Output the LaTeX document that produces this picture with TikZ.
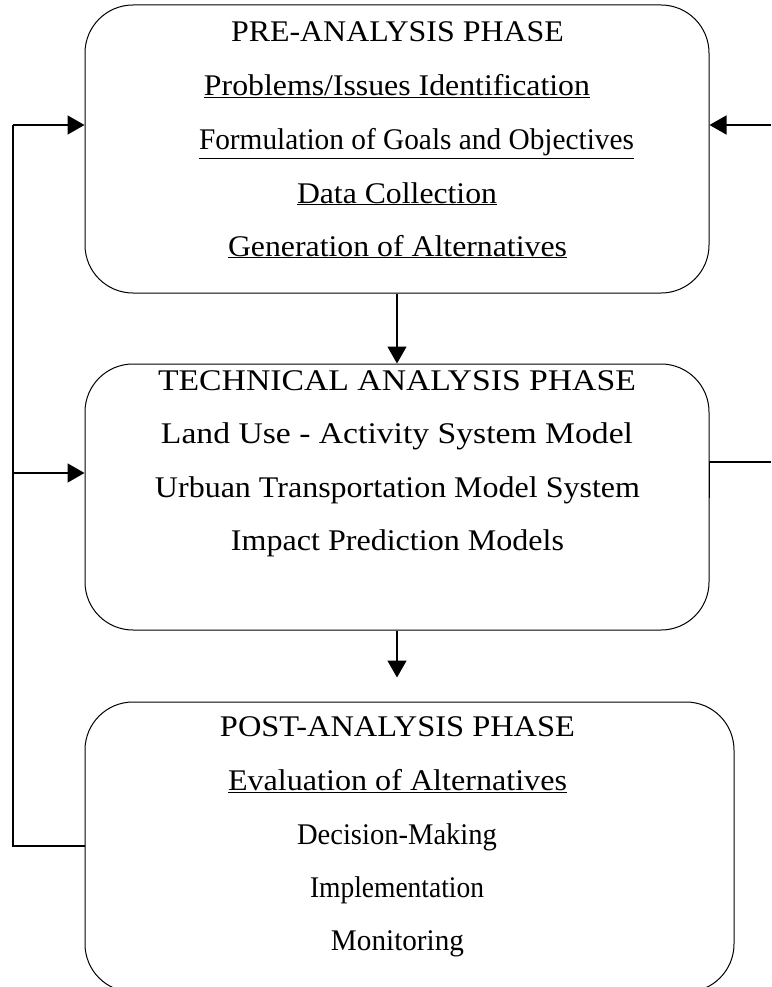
\documentclass[tikz,border=0pt]{standalone}
\usepackage{fontspec}
\setmainfont{Liberation Serif}
\usetikzlibrary{arrows.meta}
\newcommand{\fitw}[2]{\resizebox{#1pt}{\height}{#2}}
\begin{document}
\begin{tikzpicture}[x=1pt,y=-1pt,
  phasebox/.style={draw,line width=1pt,rounded corners=48pt,inner sep=0pt},
  txt/.style={anchor=base,inner sep=0pt,font=\fontsize{30}{34}\selectfont},
  conn/.style={line width=1.5pt},
  arr/.style={line width=1.5pt,-{Triangle[length=17pt,width=19pt]}}]
\useasboundingbox (0,0) rectangle (771,987);
\clip (0,0) rectangle (771,987);
% boxes
\node[phasebox,minimum width=624pt,minimum height=288pt] (box1) at (397,149) {};
\node[phasebox,minimum width=624pt,minimum height=266pt] (box2) at (397,497) {};
\node[phasebox,minimum width=649pt,minimum height=290pt] (box3) at (409.5,847) {};
% texts
\node[txt] (t11) at (397.5,42) {\fitw{333}{PRE-ANALYSIS PHASE}};
\node[txt] (t12) at (397,96) {\fitw{386}{\underline{Problems/Issues Identification}}};
\node[txt] (t13) at (416.5,150) {\fitw{435}{\underline{Formulation of Goals and Objectives}}};
\node[txt] (t14) at (397,203) {\fitw{200}{\underline{Data Collection}}};
\node[txt] (t15) at (397.5,256) {\fitw{339}{\underline{Generation of Alternatives}}};
\node[txt] (t21) at (397,390) {\fitw{478}{TECHNICAL ANALYSIS PHASE}};
\node[txt] (t22) at (397,443) {\fitw{472}{Land Use - Activity System Model}};
\node[txt] (t23) at (397.5,497) {\fitw{485}{Urbuan Transportation Model System}};
\node[txt] (t24) at (397.5,550) {\fitw{333}{Impact Prediction Models}};
\node[txt] (t31) at (397.5,736) {\fitw{355}{POST-ANALYSIS PHASE}};
\node[txt] (t32) at (397.5,790) {\fitw{339}{\underline{Evaluation of Alternatives}}};
\node[txt] (t33) at (397,844) {\fitw{200}{Decision-Making}};
\node[txt] (t34) at (397,897) {\fitw{174}{Implementation}};
\node[txt] (t35) at (397.5,950) {\fitw{133}{Monitoring}};
% coordinates
\coordinate (fb1) at (13,125);
\coordinate (fb2) at (13,473);
\coordinate (fb3) at (13,846);
\coordinate (rin) at (771,125);
\coordinate (rout) at (771,462);
% connectors
\draw[arr] (box1.south) -- (box2.north);
\draw[arr] (box2.south) -- ++(0,47);
\draw[conn] (box3.west |- fb3) -- (fb3) -- (fb1);
\draw[arr] (fb1) -- (box1.west |- fb1);
\draw[arr] (fb2) -- (box2.west |- fb2);
\draw[arr] (rin) -- (box1.east |- rin);
\draw[conn] (rout) -- (box2.east |- rout) -- ++(0,36);
\end{tikzpicture}
\end{document}
